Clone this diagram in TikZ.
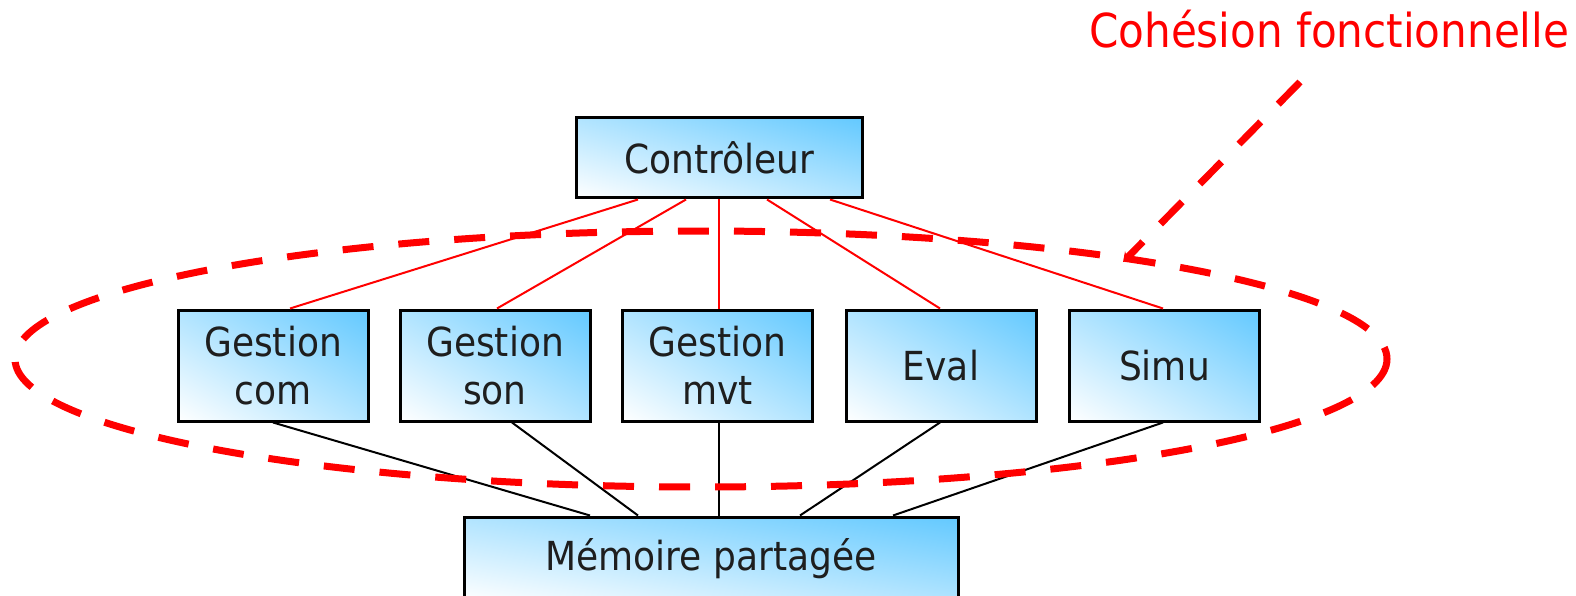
\documentclass[tikz,border=0pt]{standalone}
\usepackage{fontspec}
\setmainfont{DejaVu Sans Condensed}
\usetikzlibrary{arrows.meta}
\definecolor{ink}{RGB}{30,30,30}
\pgfdeclarefunctionalshading{diagsky}{\pgfpoint{0bp}{0bp}}{\pgfpoint{100bp}{100bp}}{}{
  add 50 sub 100 div
  dup abs add 2 div
  dup 1 sub abs exch 1 add exch sub 2 div
  dup 0.612 mul 1 exch sub
  exch 0.212 mul 1 exch sub
  1
}
\tikzset{
  modbox/.style={draw=black, line width=3pt, shade, shading=diagsky,
    inner sep=0pt, align=center, text=ink, font=\fontsize{40}{48}\selectfont},
  redlink/.style={draw=red, line width=2pt},
  blacklink/.style={draw=black, line width=2pt},
  cohesion/.style={draw=red, line width=7pt, dash pattern=on 31pt off 25pt}
}
\begin{document}
\begin{tikzpicture}[x=1pt,y=-1pt]
\useasboundingbox (0,0) rectangle (1576,596);
\clip (0,0) rectangle (1576,596);
\node[modbox, minimum width=286pt, minimum height=80pt] (ctrl) at (719,158) {Contrôleur};
\node[modbox, minimum width=190pt, minimum height=111pt] (com) at (273,365.5) {Gestion\\com};
\node[modbox, minimum width=190pt, minimum height=111pt] (son) at (495,365.5) {Gestion\\son};
\node[modbox, minimum width=190pt, minimum height=111pt] (mvt) at (717.5,365.5) {Gestion\\mvt};
\node[modbox, minimum width=190pt, minimum height=111pt] (eval) at (941,365.5) {Eval};
\node[modbox, minimum width=190pt, minimum height=111pt] (simu) at (1164.5,365.5) {Simu};
\node[modbox, minimum width=494pt, minimum height=84pt] (mem) at (711,559) {Mémoire partagée};

\draw[redlink] ([xshift=-81pt]ctrl.south) -- ([xshift=17pt]com.north);
\draw[redlink] ([xshift=-33pt]ctrl.south) -- ([xshift=2pt]son.north);
\draw[redlink] (ctrl.south) -- ([xshift=1.5pt]mvt.north);
\draw[redlink] ([xshift=48pt]ctrl.south) -- ([xshift=-1pt]eval.north);
\draw[redlink] ([xshift=111pt]ctrl.south) -- ([xshift=-1.5pt]simu.north);

\draw[blacklink] (com.south) -- ([xshift=-121pt]mem.north);
\draw[blacklink] ([xshift=17pt]son.south) -- ([xshift=-73pt]mem.north);
\draw[blacklink] ([xshift=1.5pt]mvt.south) -- ([xshift=8pt]mem.north);
\draw[blacklink] ([xshift=-1pt]eval.south) -- ([xshift=89pt]mem.north);
\draw[blacklink] ([xshift=-1.5pt]simu.south) -- ([xshift=182pt]mem.north);

\draw[cohesion] (701,359) ellipse [x radius=686, y radius=128];

\node[anchor=base west, inner sep=0pt, text=red, font=\fontsize{46.8}{56}\selectfont] (label) at (1089,48) {Cohésion fonctionnelle};
\coordinate (ptrstart) at (1300,82);
\coordinate (ptrend) at (1123,262);
\draw[cohesion, -{Stealth[length=9pt,width=12pt]}] (ptrstart) -- (ptrend);
\end{tikzpicture}
\end{document}
